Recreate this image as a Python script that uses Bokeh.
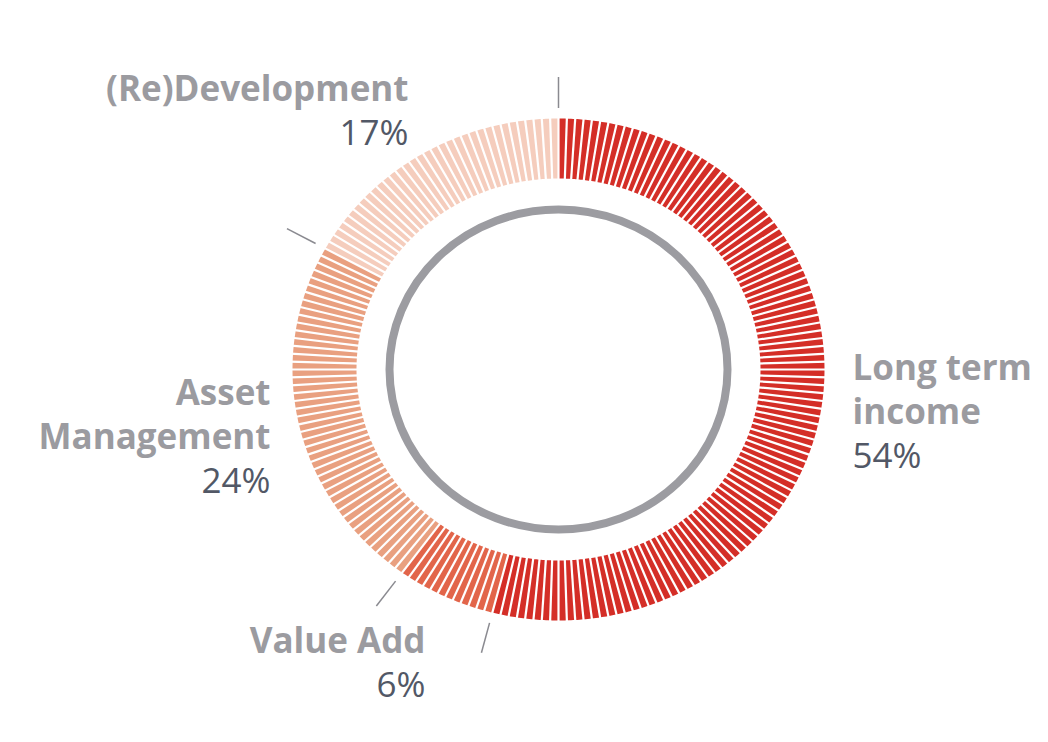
import numpy as np
from bokeh.plotting import figure
from bokeh.models import Range1d
from bokeh.core.properties import value
from bokeh.embed import file_html
from bokeh.resources import INLINE

# ---- data ----
categories = ["Long term income", "Value Add", "Asset Management", "(Re)Development"]
label_lines = [["Long term", "income"], ["Value Add"], ["Asset", "Management"], ["(Re)Development"]]
shares = [54, 6, 24, 17]
pct_labels = ["54%", "6%", "24%", "17%"]
colors = ["#d42e27", "#e2654a", "#e9a080", "#f5cdbd"]

# ---- geometry (page pixels) ----
W, H = 1032, 726
def Y(py):
    return H - py
cx, cy = 558, Y(369)
rx_out, ry_out = 266, 251
rx_in, ry_in = 202, 191
n_stripes = 200
step = 360.0 / n_stripes

p = figure(width=W, height=H, output_backend="svg", toolbar_location=None,
           x_range=Range1d(0, W), y_range=Range1d(0, H),
           min_border=0)
p.axis.visible = False
p.grid.visible = False
p.outline_line_color = None
p.background_fill_color = "white"

# segment boundaries (clockwise from top); last segment anchored at top, counter-clockwise
cum = np.cumsum(shares[:3]) * 3.6
redev_start = 360 - shares[3] * 3.6

def seg_index(t):
    if t < cum[0]:
        return 0
    if t < cum[1]:
        return 1
    if t >= redev_start:
        return 3
    return 2

xs, ys, fills = [], [], []
for i in range(n_stripes):
    t0, t1 = i * step, (i + 1) * step
    tm = (t0 + t1) / 2
    k = seg_index(tm)
    ts = np.linspace(t0 - 0.05, t1 + 0.05, 5)
    a = np.radians(90 - ts)
    ox = cx + rx_out * np.cos(a); oy = cy + ry_out * np.sin(a)
    ix = cx + rx_in * np.cos(a[::-1]); iy = cy + ry_in * np.sin(a[::-1])
    xs.append(list(np.concatenate([ox, ix])))
    ys.append(list(np.concatenate([oy, iy])))
    fills.append(colors[k])
p.patches(xs, ys, fill_color=fills, line_color=None)

# white separators between stripes
b = np.radians(90 - np.arange(n_stripes) * step)
p.segment(x0=cx + rx_in * 0.98 * np.cos(b), y0=cy + ry_in * 0.98 * np.sin(b),
          x1=cx + rx_out * 1.01 * np.cos(b), y1=cy + ry_out * 1.01 * np.sin(b),
          line_color="white", line_width=2.2)

# inner gray ring
p.ellipse(x=cx, y=cy, width=2 * 169, height=2 * 160, fill_color=None,
          line_color="#9c9ca1", line_width=8)

# leader lines at boundaries
bounds = [0.0, cum[0], cum[1], redev_start]
ba = np.radians(90 - np.array(bounds))
r0, r1 = 1.042, 1.165
p.segment(x0=cx + rx_out * r0 * np.cos(ba), y0=cy + ry_out * r0 * np.sin(ba),
          x1=cx + rx_out * r1 * np.cos(ba), y1=cy + ry_out * r1 * np.sin(ba),
          line_color="#8a8a90", line_width=1.5)

# labels
font = value("Open Sans")
fs = "35px"
pfs = "35px"
label_color = "#9b9ba0"
pct_color = "#525866"
lead = 44
# anchor (x, first baseline page-y, align)
anchors = [(852, 366, "left"), (425, 639, "right"), (270, 391, "right"), (408, 87, "right")]
for k in range(4):
    x, by, al = anchors[k]
    lines = label_lines[k]
    for j, line in enumerate(lines):
        p.text(x=[x], y=[Y(by + j * lead)], text=[line], text_font=font,
               text_font_size=fs, text_font_style="bold", text_color=label_color,
               text_align=al, text_baseline="alphabetic")
    p.text(x=[x], y=[Y(by + len(lines) * lead)], text=[pct_labels[k]], text_font=font,
           text_font_size=pfs, text_font_style="normal", text_color=pct_color,
           text_align=al, text_baseline="alphabetic")

open("out.html", "w").write(file_html(p, INLINE))
